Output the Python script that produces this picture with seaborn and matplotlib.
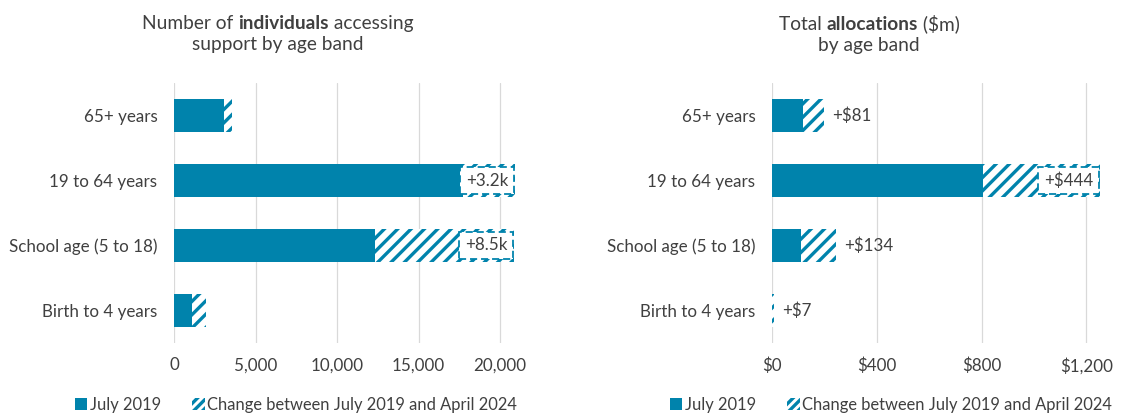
import matplotlib
matplotlib.use("Agg")
import matplotlib.pyplot as plt
import seaborn as sns
import pandas as pd
from matplotlib.patches import Patch
from matplotlib.offsetbox import TextArea, HPacker, VPacker, AnnotationBbox

# ---------------- data ----------------
age_bands = ["65+ years", "19 to 64 years", "School age (5 to 18)", "Birth to 4 years"]

individuals_2019 = [3070, 17700, 12330, 1080]
individuals_change = [490, 3200, 8500, 860]
individuals_labels = ["", "+3.2k", "+8.5k", ""]

alloc_2019 = [117, 806, 110, 1]
alloc_change = [81, 444, 134, 7]
alloc_labels = ["+$81", "+$444", "+$134", "+$7"]

individual_ticks = [0, 5000, 10000, 15000, 20000]
individual_tick_labels = ["0", "5,000", "10,000", "15,000", "20,000"]
alloc_ticks = [0, 400, 800, 1200]
alloc_tick_labels = ["$0", "$400", "$800", "$1,200"]

legend_labels = ["July 2019", "Change between July 2019 and April 2024"]

# ---------------- style ----------------
DPI = 80
BLUE = "#0083AC"
TEXT = "#404040"
GRID = "#D9D9D9"
FONT = ["Lato", "DejaVu Sans"]

sns.set_theme(style="white")
plt.rcParams["font.family"] = FONT
plt.rcParams["hatch.linewidth"] = 3.0
plt.rcParams["hatch.color"] = BLUE

FS = 15.3        # tick / label font size (pt)
LFS = 14.9       # legend font size (pt)
TFS = 17.2       # title font size (pt)

fig = plt.figure(figsize=(1122 / DPI, 417 / DPI), dpi=DPI)
fig.patch.set_facecolor("white")

ax1 = fig.add_axes([174 / 1122, 74 / 417, 350.5 / 1122, 260 / 417])
ax2 = fig.add_axes([772 / 1122, 74 / 417, 340.6 / 1122, 260 / 417])


def draw_panel(ax, base, change, labels, ticks, tick_labels, xmax):
    df = pd.DataFrame({
        "band": age_bands,
        "base": base,
        "total": [b + c for b, c in zip(base, change)],
    })
    sns.barplot(data=df, x="total", y="band", order=age_bands, orient="h",
                color="white", edgecolor=BLUE, linewidth=0, hatch="//",
                width=0.5, errorbar=None, ax=ax, zorder=2)
    sns.barplot(data=df, x="base", y="band", order=age_bands, orient="h",
                color=BLUE, edgecolor=BLUE, linewidth=0, saturation=1,
                width=0.5, errorbar=None, ax=ax, zorder=3)
    ax.set_xlim(0, xmax)
    ax.set_xticks(ticks)
    ax.set_xticklabels(tick_labels)
    ax.set_xlabel("")
    ax.set_ylabel("")
    ax.grid(axis="x", color=GRID, lw=1.1)
    ax.grid(axis="y", visible=False)
    ax.set_axisbelow(True)
    for s in ax.spines.values():
        s.set_visible(False)
    ax.tick_params(axis="x", length=0, pad=13, labelsize=FS, labelcolor=TEXT)
    ax.tick_params(axis="y", length=0, pad=15, labelsize=FS, labelcolor=TEXT)

    pad = 0.33
    for i, (tot, lab) in enumerate(zip(df["total"], labels)):
        if not lab:
            continue
        if (tot - df["base"][i]) / xmax > 0.12:
            ax.annotate(lab, xy=(tot, i), xytext=(-pad * FS * DPI / 72 - 0.8, 0),
                        textcoords="offset pixels", ha="right", va="center",
                        fontsize=FS, color=TEXT, zorder=5,
                        bbox=dict(boxstyle=f"square,pad={pad}", fc="white",
                                  ec=BLUE, lw=1.6, ls=(0, (4.0, 2.2))))
        else:
            ax.annotate(lab, xy=(tot, i), xytext=(8, 0),
                        textcoords="offset pixels", ha="left", va="center",
                        fontsize=FS, color=TEXT, zorder=5)


draw_panel(ax1, individuals_2019, individuals_change, individuals_labels,
           individual_ticks, individual_tick_labels, 21500)
draw_panel(ax2, alloc_2019, alloc_change, alloc_labels,
           alloc_ticks, alloc_tick_labels, 1300)


def title(x, y, lines):
    rows = []
    for parts in lines:
        areas = [TextArea(t, textprops=dict(fontsize=TFS, fontweight=w,
                                            color=TEXT, family=FONT))
                 for t, w in parts]
        rows.append(HPacker(children=areas, align="baseline", pad=0, sep=0))
    box = VPacker(children=rows, align="center", pad=0, sep=4)
    ab = AnnotationBbox(box, (x, y), xycoords="figure fraction", frameon=False,
                        box_alignment=(0.5, 0.5))
    fig.add_artist(ab)


title(278 / 1122, 1 - 34 / 417,
      [[("Number of ", "normal"), ("individuals", "bold"), (" accessing", "normal")],
       [("support by age band", "normal")]])
title(869 / 1122, 1 - 34 / 417,
      [[("Total ", "normal"), ("allocations", "bold"), (" ($m)", "normal")],
       [("by age band", "normal")]])

handles = [Patch(facecolor=BLUE, edgecolor=BLUE, lw=0),
           Patch(facecolor="white", edgecolor=BLUE, lw=0, hatch="///")]
for x0 in (75, 670):
    fig.legend(handles, legend_labels, loc="center left",
               bbox_to_anchor=(x0 / 1122, 1 - 405 / 417), ncol=2, frameon=False,
               fontsize=LFS, labelcolor=TEXT, handlelength=0.75, handleheight=0.75,
               handletextpad=0.15, columnspacing=1.9, borderpad=0, borderaxespad=0)

fig.savefig("out.png", dpi=DPI, facecolor="white")
